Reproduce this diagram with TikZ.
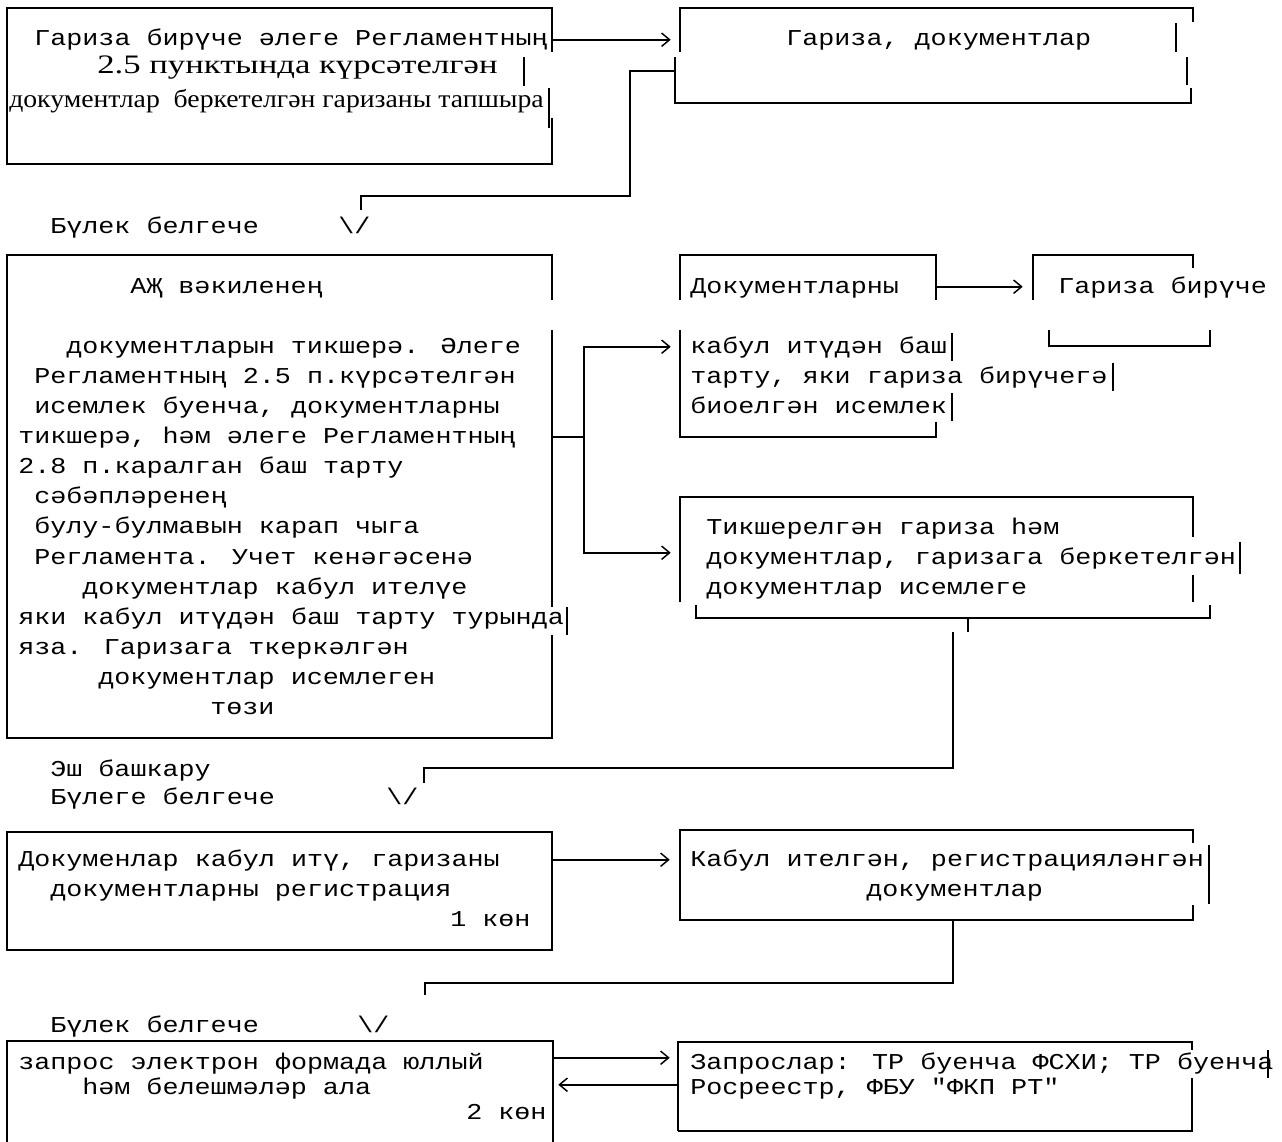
\documentclass[tikz,border=0pt]{standalone}
\usepackage{fontspec}
\newfontfamily\monoff[FakeStretch=1.18]{Liberation Mono}
\newfontfamily\serff[FakeStretch=1.094]{Liberation Serif}
\usetikzlibrary{arrows.meta,calc,fit}
\begin{document}
\begin{tikzpicture}[x=0.75pt,y=-0.75pt,
  edge/.style={line width=1.8pt},
  conn/.style={line width=1.8pt},
  tip/.style={-{Straight Barb[length=6pt,width=10pt,line width=1.1pt]}},
  mt/.style={anchor=base west, inner sep=0pt, font=\monoff\fontsize{17}{19}\selectfont},
  st/.style={anchor=base west, inner sep=0pt, font=\serff\fontsize{19}{21}\selectfont},
  area/.style={inner sep=0pt, draw=none}]
\fill[white] (0,0) rectangle (1282,1142);
\clip (0,0) rectangle (1282,1142);

% ---------- box areas ----------
\node[area, fit={(7,8) (552,164)}] (b1) {};
\node[area, fit={(677,8) (1193,103)}] (b2) {};
\node[area, fit={(7,255) (552,738)}] (b3) {};
\node[area, fit={(680,255) (936,437)}] (b4) {};
\node[area, fit={(1033,255) (1193,346)}] (b5) {};
\node[area, fit={(680,497) (1193,618)}] (b6) {};
\node[area, fit={(7,832) (552,950)}] (b7) {};
\node[area, fit={(680,830) (1193,920)}] (b8) {};
\node[area, fit={(7,1041) (553,1200)}] (b9) {};
\node[area, fit={(678,1042) (1192,1131)}] (b10) {};

% ---------- outlines ----------
% b1
\draw[edge] (552,52) -- (552,8) -- (7,8) -- (7,164) -- (552,164) -- (552,118);
\draw[edge] (524,57) -- (524,86) (549,88) -- (549,128);
% b2
\draw[edge] (1193,22) -- (1193,8) -- (680,8) -- (680,52);
\draw[edge] (675,57) -- (675,103) -- (1191,103) -- (1191,88);
\draw[edge] (1176,23) -- (1176,52) (1187,57) -- (1187,85);
% b3
\draw[edge] (552,300) -- (552,255) -- (7,255) -- (7,738) -- (552,738) -- (552,635);
\draw[edge] (552,330) -- (552,607) (567,607) -- (567,635);
% b4
\draw[edge] (680,300) -- (680,255) -- (936,255) -- (936,300);
\draw[edge] (680,330) -- (680,437) -- (936,437) -- (936,422);
\draw[edge] (952,333) -- (952,361) (1113,363) -- (1113,391) (952,393) -- (952,421);
% b5
\draw[edge] (1193,268) -- (1193,255) -- (1033,255) -- (1033,300);
\draw[edge] (1049,330) -- (1049,346) -- (1210,346) -- (1210,330);
% b6
\draw[edge] (680,602) -- (680,497) -- (1193,497) -- (1193,537);
\draw[edge] (1193,575) -- (1193,602) (1240,542) -- (1240,574);
\draw[edge] (696,605) -- (696,618) -- (1210,618) -- (1210,605);
% b7
\draw[edge] (b7.north west) rectangle (b7.south east);
% b8
\draw[edge] (1193,843) -- (1193,830) -- (680,830) -- (680,920) -- (1193,920) -- (1193,905);
\draw[edge] (1209,845) -- (1209,904);
% b9
\draw[edge] (b9.south west) -- (b9.north west) -- (b9.north east) -- (b9.south east);
% b10
\draw[edge] (678,1131) -- (678,1042) -- (1192,1042) -- (1192,1050);
\draw[edge] (1192,1078) -- (1192,1131) -- (678,1131) (1268,1050) -- (1268,1078);

% ---------- texts ----------
\node[mt] (t1a) at (34,45) {Гариза бирүче әлеге Регламентның};
\node[st] (t1b) at (97,73) {\fontsize{20}{22}\selectfont\scalebox{1.19}[1]{2.5 пунктында күрсәтелгән}};
\node[st] (t1c) at (9,107) {документлар\ \ беркетелгән гаризаны тапшыра};
\node[mt] (t2) at (786,45) {Гариза, документлар};
\node[mt] (l1) at (50,233) {Бүлек белгече};
\node[mt] (v1) at (338,233) {\textbackslash/};

\node[mt] (t3a) at (130,293) {АҖ вәкиленең};
\node[mt] (t3b) at (66,353) {документларын тикшерә. Әлеге};
\node[mt] (t3c) at (34,383) {Регламентның 2.5 п.күрсәтелгән};
\node[mt] (t3d) at (34,413) {исемлек буенча, документларны};
\node[mt] (t3e) at (18,443) {тикшерә, һәм әлеге Регламентның};
\node[mt] (t3f) at (18,473) {2.8 п.каралган баш тарту};
\node[mt] (t3g) at (34,503) {сәбәпләренең};
\node[mt] (t3h) at (34,533) {булу-булмавын карап чыга};
\node[mt] (t3i) at (34,564) {Регламента. Учет кенәгәсенә};
\node[mt] (t3j) at (82,594) {документлар кабул ителүе};
\node[mt] (t3k) at (18,624) {яки кабул итүдән баш тарту турында};
\node[mt] (t3l) at (18,654) {яза. Гаризага ткеркәлгән};
\node[mt] (t3m) at (98,684) {документлар исемлеген};
\node[mt] (t3n) at (210,714) {төзи};

\node[mt] (t4a) at (690,293) {Документларны};
\node[mt] (t4b) at (690,353) {кабул итүдән баш};
\node[mt] (t4c) at (690,383) {тарту, яки гариза бирүчегә};
\node[mt] (t4d) at (690,413) {биоелгән исемлек};
\node[mt] (t5) at (1058,293) {Гариза бирүче};

\node[mt] (t6a) at (706,534) {Тикшерелгән гариза һәм};
\node[mt] (t6b) at (706,564) {документлар, гаризага беркетелгән};
\node[mt] (t6c) at (706,594) {документлар исемлеге};

\node[mt] (l2a) at (50,776) {Эш башкару};
\node[mt] (l2b) at (50,804) {Бүлеге белгече};
\node[mt] (v2) at (386,804) {\textbackslash/};

\node[mt] (t7a) at (18,866) {Докуменлар кабул итү, гаризаны};
\node[mt] (t7b) at (50,896) {документларны регистрация};
\node[mt] (t7c) at (450,926) {1 көн};
\node[mt] (t8a) at (690,866) {Кабул ителгән, регистрацияләнгән};
\node[mt] (t8b) at (866,896) {документлар};

\node[mt] (l3) at (50,1032) {Бүлек белгече};
\node[mt] (v3) at (357,1032) {\textbackslash/};

\node[mt] (t9a) at (18,1069) {запрос электрон формада юллый};
\node[mt] (t9b) at (82,1094) {һәм белешмәләр ала};
\node[mt] (t9c) at (466,1119) {2 көн};
\node[mt] (t10a) at (690,1069) {Запрослар: ТР буенча ФСХИ; ТР буенча};
\node[mt] (t10b) at (690,1094) {Росреестр, ФБУ "ФКП РТ"};

% ---------- connectors ----------
\draw[conn,tip] ($(b1.north east)+(0,32)$) -- ($(b2.north west)+(-6,32)$);
\coordinate (e1) at (361,210);
\draw[conn] ($(b2.north west)+(-2,63)$) -| (630,196) -| (e1);

\coordinate (j1) at (584,437);
\draw[conn] (b3.east |- j1) -- (j1);
\draw[conn,tip] (j1) |- ($(b4.north west)+(-9,92)$);
\draw[conn,tip] (j1) |- ($(b6.north west)+(-9,56)$);
\draw[conn,tip] ($(b4.north east)+(0,32)$) -- ($(b5.north west)+(-10,32)$);

\coordinate (e2) at (424,783);
\draw[conn] (968,618) -- (968,632) (953,632) -- (953,768) -| (e2);

\draw[conn,tip] ($(b7.north east)+(0,28)$) -- ($(b8.north west)+(-10,30)$);
\coordinate (e3) at (425,995);
\draw[conn] ($(b8.south west)+(273,0)$) -- ($(b8.south west)+(273,63)$) -| (e3);

\draw[conn,tip] ($(b9.north east)+(0,17)$) -- ($(b10.north west)+(-8,16)$);
\draw[conn,tip] ($(b10.north west)+(0,43)$) -- ($(b9.north east)+(5,44)$);
\end{tikzpicture}
\end{document}
